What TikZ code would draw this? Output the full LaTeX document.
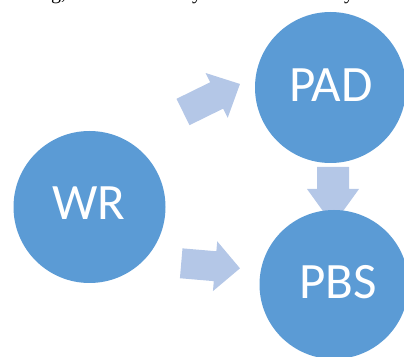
\documentclass[tikz,border=0pt]{standalone}
\usepackage{fontspec}
\setmainfont{Liberation Serif}
\newfontfamily\labelfont{Carlito}
\definecolor{circblue}{HTML}{5B9BD5}
\definecolor{arrblue}{HTML}{B4C7E7}
\newcommand\myarrow[8]{% name, x, y, angle, length, shaft half, head half, head length
  \begin{scope}[shift={(#2,#3)},rotate=#4]
    \fill[arrblue] (0,-#6) -- ({#5-#8},-#6) -- ({#5-#8},-#7) -- (#5,0)
      -- ({#5-#8},#7) -- ({#5-#8},#6) -- (0,#6) -- cycle;
    \coordinate (#1) at (#5/2,0);
  \end{scope}}
\begin{document}
\begin{tikzpicture}[x=1pt,y=1pt,
  circ/.style={circle,fill=circblue,minimum size=#1,inner sep=0pt},
  lbl/.style={text=white,font=\labelfont\fontsize{51}{51}\selectfont,inner sep=0pt},
  frag/.style={font=\fontsize{20}{20}\selectfont,inner sep=0pt,anchor=base west}]
\useasboundingbox (0,0) rectangle (404,356);
% fragments of the previous text line (only descenders visible)
\node[frag] (f1) at (51,356) {g,};
\node[frag] (f2) at (192,356) {y};
\node[frag] (f3) at (344,356) {y};
% block arrows
\myarrow{a1}{183}{244}{26.2}{63.5}{14.7}{25}{26}
\myarrow{a2}{181.2}{92.7}{-4.9}{59}{15}{25}{25}
\myarrow{a3}{333}{189}{-90}{58}{16}{26}{36}
% circles
\node[circ=152pt] (wr) at (89.5,149) {};
\node[circ=151pt] (pad) at (330.5,268.5) {};
\node[circ=149pt] (pbs) at (334,71.5) {};
\node[lbl] (wrt) at (89,153) {WR};
\node[lbl] (padt) at (331,271) {PAD};
\node[lbl] (pbst) at (338,74) {PBS};
\end{tikzpicture}
\end{document}
